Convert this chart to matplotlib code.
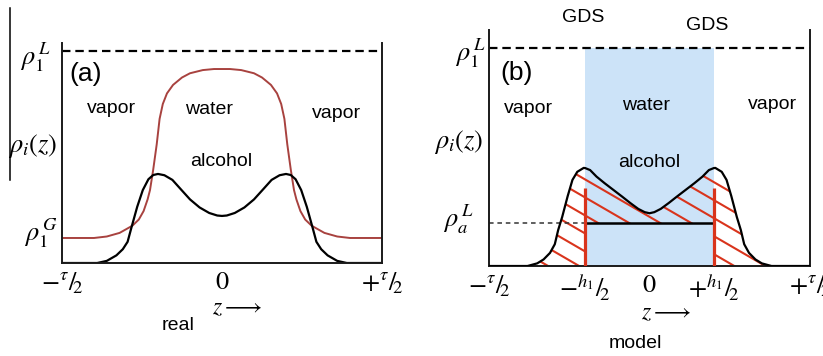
import matplotlib
matplotlib.use("Agg")
import matplotlib.pyplot as plt
from matplotlib.lines import Line2D
from matplotlib.path import Path
from matplotlib.collections import LineCollection
import numpy as np

plt.rcParams['font.family'] = ['Liberation Sans', 'DejaVu Sans']
plt.rcParams['mathtext.fontset'] = 'stix'

# ---------------- data ----------------
# panel (a) "real": z in units of tau/2, densities in units of rho_1^L
za_alcohol = [-1.00, -0.78, -0.72, -0.66, -0.62, -0.59, -0.565, -0.53, -0.495, -0.46, -0.43, -0.40,
              -0.36, -0.31, -0.26, -0.20, -0.14, -0.08, -0.03, 0.00,
              0.03, 0.08, 0.14, 0.20, 0.26, 0.31, 0.36, 0.40, 0.43, 0.46, 0.495, 0.53,
              0.565, 0.59, 0.62, 0.66, 0.72, 0.78, 1.00]
rho_a_alcohol = [0.000, 0.000, 0.010, 0.036, 0.065, 0.100, 0.170, 0.265, 0.344, 0.395, 0.415, 0.420,
                 0.414, 0.392, 0.350, 0.300, 0.262, 0.236, 0.224, 0.222,
                 0.224, 0.236, 0.262, 0.300, 0.350, 0.392, 0.414, 0.420, 0.415, 0.395, 0.344, 0.265,
                 0.170, 0.100, 0.065, 0.036, 0.010, 0.000, 0.000]

za_water = [-1.00, -0.80, -0.72, -0.64, -0.56, -0.52, -0.49, -0.465, -0.45, -0.43, -0.408, -0.39,
            -0.37, -0.344, -0.306, -0.25, -0.20, -0.12, -0.05, 0.00,
            0.05, 0.12, 0.20, 0.25, 0.306, 0.344, 0.37, 0.39, 0.408, 0.43, 0.45, 0.465,
            0.49, 0.52, 0.56, 0.64, 0.72, 0.80, 1.00]
rho_a_water = [0.118, 0.118, 0.125, 0.142, 0.176, 0.205, 0.245, 0.300, 0.344, 0.440, 0.560, 0.680,
               0.750, 0.800, 0.840, 0.875, 0.895, 0.910, 0.915, 0.915,
               0.915, 0.910, 0.895, 0.875, 0.840, 0.800, 0.750, 0.680, 0.560, 0.440, 0.344, 0.300,
               0.245, 0.205, 0.176, 0.142, 0.125, 0.118, 0.118]

# panel (b) "model"
zb_alcohol = [-1.00, -0.76, -0.70, -0.66, -0.62, -0.59, -0.569, -0.544, -0.51, -0.48, -0.45, -0.41,
              -0.40, -0.37, -0.33, -0.28, -0.225, -0.17, -0.12, -0.07, -0.03, 0.00,
              0.03, 0.07, 0.12, 0.17, 0.225, 0.28, 0.33, 0.37, 0.40, 0.41, 0.45, 0.48,
              0.51, 0.544, 0.569, 0.59, 0.62, 0.66, 0.70, 0.76, 1.00]
rho_b_alcohol = [0.000, 0.000, 0.012, 0.030, 0.060, 0.100, 0.165, 0.225, 0.320, 0.395, 0.432, 0.450,
                 0.449, 0.440, 0.410, 0.380, 0.349, 0.318, 0.289, 0.262, 0.247, 0.242,
                 0.247, 0.262, 0.289, 0.318, 0.349, 0.380, 0.410, 0.440, 0.449, 0.450, 0.432, 0.395,
                 0.320, 0.225, 0.165, 0.100, 0.060, 0.030, 0.012, 0.000, 0.000]
h1_half = 0.40          # GDS positions (+/- h1/2)
rho_a_L = 0.197         # alcohol liquid density level
gds_bar_top = 0.358     # top of the red GDS bars
rho_1_L = 1.0           # water liquid density (dashed)

tick_pos_a = [-1, 0, 1]
tick_lab_a = [r'$-{}^{\tau}/\!{}_{2}$', r'$0$', r'$+{}^{\tau}/\!{}_{2}$']
tick_pos_b = [-1, -h1_half, 0, h1_half, 1]
tick_lab_b = [r'$-{}^{\tau}/\!{}_{2}$', r'$-{}^{h_1}/\!{}_{2}$', r'$0$',
              r'$+{}^{h_1}/\!{}_{2}$', r'$+{}^{\tau}/\!{}_{2}$']

# hatch style (pixels)
HATCH_SLOPE_PX = 0.58
HATCH_STEP_PX = 18.0

# ---------------- figure ----------------
W, H = 823, 356
fig = plt.figure(figsize=(W / 100, H / 100), dpi=100)


def px(x, y):
    return x / W, 1 - y / H


def box(l, t, r, b):
    return [l / W, 1 - b / H, (r - l) / W, (b - t) / H]


RED = '#d9341c'
WRED = '#a8423f'
BLUE = '#cce3f8'
AX = '#1a1a1a'


def style(ax, ylim):
    ax.set_xlim(-1, 1)
    ax.set_ylim(0, ylim)
    ax.spines['top'].set_visible(False)
    for s in ('left', 'right', 'bottom'):
        ax.spines[s].set_linewidth(1.4)
        ax.spines[s].set_color(AX)
    ax.set_yticks([])
    ax.tick_params(axis='x', length=0, pad=5, labelsize=19)
    ax.patch.set_alpha(0)


# ----- panel (a)
axa = fig.add_axes(box(62, 43, 382, 263))
style(axa, 220 / 212)
axa.axhline(rho_1_L, color='black', lw=1.6, ls=(0, (3.8, 2.2)))
axa.plot(za_water, rho_a_water, color=WRED, lw=1.4, solid_joinstyle='round')
axa.plot(za_alcohol, rho_a_alcohol, color='black', lw=1.6, solid_joinstyle='round')
axa.set_xticks(tick_pos_a)
axa.set_xticklabels(tick_lab_a)

# ----- panel (b)
bl, bt, br, bb = 489, 30, 810, 266
axb = fig.add_axes(box(bl, bt, br, bb))
ylim_b = 236 / 218
style(axb, ylim_b)
zb = np.array(zb_alcohol)
rb = np.array(rho_b_alcohol)
axb.fill_between([-h1_half, h1_half], 0, rho_1_L, color=BLUE, lw=0, zorder=0)
axb.axhline(rho_1_L, color='black', lw=1.6, ls=(0, (3.8, 2.2)))

# hatched excess regions
m_left = zb <= -h1_half
m_in = np.abs(zb) <= h1_half
m_right = zb >= h1_half
paths = []
for m, low in ((m_left, 0.0), (m_in, rho_a_L), (m_right, 0.0)):
    pc = axb.fill_between(zb[m], low, rb[m], facecolor='none', edgecolor='none', lw=0)
    paths.append(pc.get_paths()[0])
clip = Path.make_compound_path(*paths)
xs_per_px = 2.0 / (br - bl)
ys_per_px = ylim_b / (bb - bt)
slope = -HATCH_SLOPE_PX * ys_per_px / xs_per_px
step = HATCH_STEP_PX * ys_per_px
segs = [[(-1, c - slope), (1, c + slope)] for c in np.arange(-0.6, 1.2, step)]
lc = LineCollection(segs, colors=RED, linewidths=1.5, zorder=1)
axb.add_collection(lc)
lc.set_clip_path(clip, axb.transData)

axb.plot(zb, rb, color='black', lw=1.6, solid_joinstyle='round', zorder=3)
axb.plot([-1, -h1_half], [rho_a_L, rho_a_L], color='#333333', lw=1.1, ls=(0, (3, 2.5)), zorder=2)
axb.plot([-h1_half, h1_half], [rho_a_L, rho_a_L], color='black', lw=1.8, zorder=2)
axb.vlines([-h1_half, h1_half], 0, gds_bar_top, color=RED, lw=2.3, zorder=4)
axb.set_xticks(tick_pos_b)
axb.set_xticklabels(tick_lab_b)

# stray vertical rule at far left
fig.add_artist(Line2D([10 / W, 10 / W], [1 - 8 / H, 1 - 180 / H], color='black', lw=1.1))

# ---------------- texts ----------------
MS = 19   # math label size
TS = 14   # word size


def t(x, y, s, size=TS, **kw):
    fig.text(*px(x, y), s, fontsize=size, ha='center', va='center', **kw)


# panel (a)
t(35, 57, r'$\rho_1^{\,L}$', MS)
t(33, 146, r'$\rho_i(z)$', MS)
t(41, 233, r'$\rho_1^{\,G}$', MS)
t(86, 74, '(a)', 19)
t(111, 108, 'vapor')
t(209, 110, 'water')
t(336, 114, 'vapor')
t(221, 161, 'alcohol')
t(237, 308, r'$z\longrightarrow$', 17)
t(178, 325, 'real')

# panel (b)
t(583, 18, 'GDS')
t(707, 26, 'GDS')
t(470, 53, r'$\rho_1^{\,L}$', MS)
t(459, 142, r'$\rho_i(z)$', MS)
t(458, 219, r'$\rho_a^{\,L}$', MS)
t(517, 73, '(b)', 19)
t(528, 108, 'vapor')
t(646, 106, 'water')
t(772, 104, 'vapor')
t(649, 163, 'alcohol')
t(666, 313, r'$z\longrightarrow$', 17)
t(635, 343, 'model')

fig.savefig('out.png', dpi=100)
